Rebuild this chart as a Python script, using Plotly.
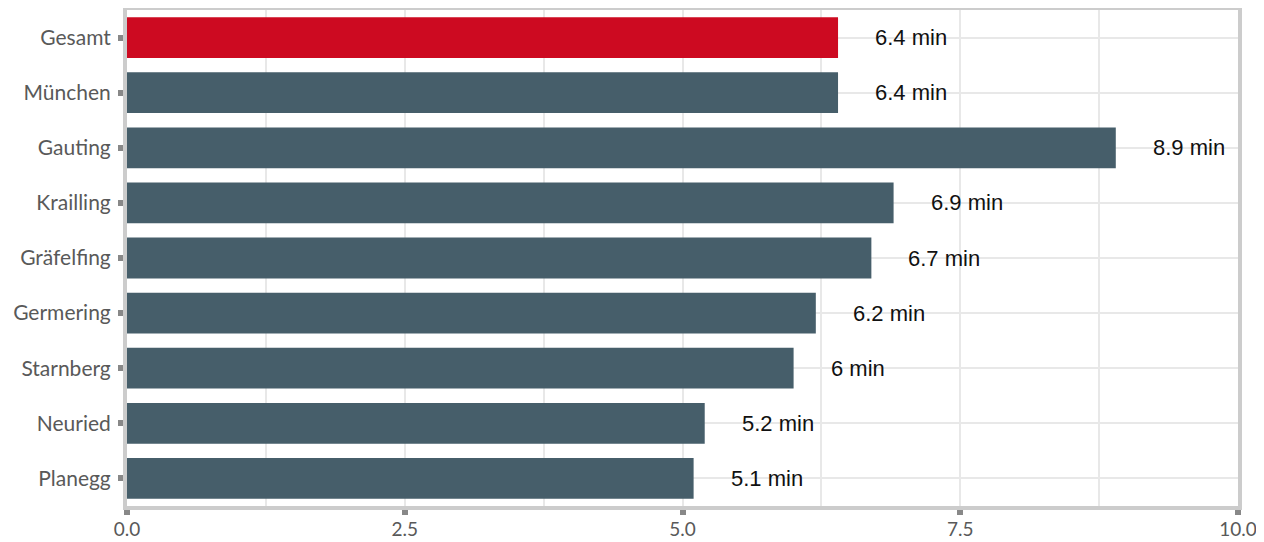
import plotly.graph_objects as go

categories = ["Gesamt", "München", "Gauting", "Krailling", "Gräfelfing",
              "Germering", "Starnberg", "Neuried", "Planegg"]
values = [6.4, 6.4, 8.9, 6.9, 6.7, 6.2, 6.0, 5.2, 5.1]
value_labels = ["6.4 min", "6.4 min", "8.9 min", "6.9 min", "6.7 min",
                "6.2 min", "6 min", "5.2 min", "5.1 min"]
x_ticks = [0, 2.5, 5, 7.5, 10]
x_tick_labels = ["0.0", "2.5", "5.0", "7.5", "10.0"]

RED = "#CD0A21"
SLATE = "#465E6A"
colors = [RED if c == "Gesamt" else SLATE for c in categories]

fig = go.Figure(go.Bar(
    x=values, y=categories, orientation="h",
    marker=dict(color=colors, line=dict(width=0)),
    hoverinfo="skip",
))

for c, v, t in zip(categories, values, value_labels):
    fig.add_annotation(x=v, y=c, text=t, showarrow=False, xanchor="left",
                       xshift=35, font=dict(family="Liberation Sans, Arial", size=22, color="#111111"))

# page body has an 8px margin, so the figure is sized/offset to compensate
fig.update_layout(
    width=1256, height=534,
    margin=dict(l=119, r=26, t=2, b=36),
    paper_bgcolor="white", plot_bgcolor="white",
    bargap=0.26,
    showlegend=False,
    font=dict(family="Lato", size=21, color="#595959"),
)
fig.update_xaxes(
    range=[0, 10], tickvals=x_ticks, ticktext=x_tick_labels,
    showgrid=True, gridcolor="#e8e8e8", gridwidth=2,
    minor=dict(dtick=1.25, tick0=0, showgrid=True, gridcolor="#e8e8e8", gridwidth=2, ticklen=0),
    showline=True, linecolor="#cccccc", linewidth=4, mirror=True,
    ticks="outside", ticklen=5, tickwidth=6, tickcolor="#888888",
    tickfont=dict(family="Lato", size=19, color="#595959"),
    ticklabelstandoff=-2,
    zeroline=False, fixedrange=True, automargin=False,
)
fig.update_yaxes(
    categoryorder="array", categoryarray=categories, autorange="reversed",
    showgrid=True, gridcolor="#e8e8e8", gridwidth=2,
    showline=True, linecolor="#cccccc", linewidth=4, mirror=True,
    ticks="outside", ticklen=5, tickwidth=6, tickcolor="#888888",
    tickfont=dict(family="Lato", size=21, color="#595959"),
    ticklabelstandoff=3,
    fixedrange=True, automargin=False,
)

fig.write_html("out.html")
